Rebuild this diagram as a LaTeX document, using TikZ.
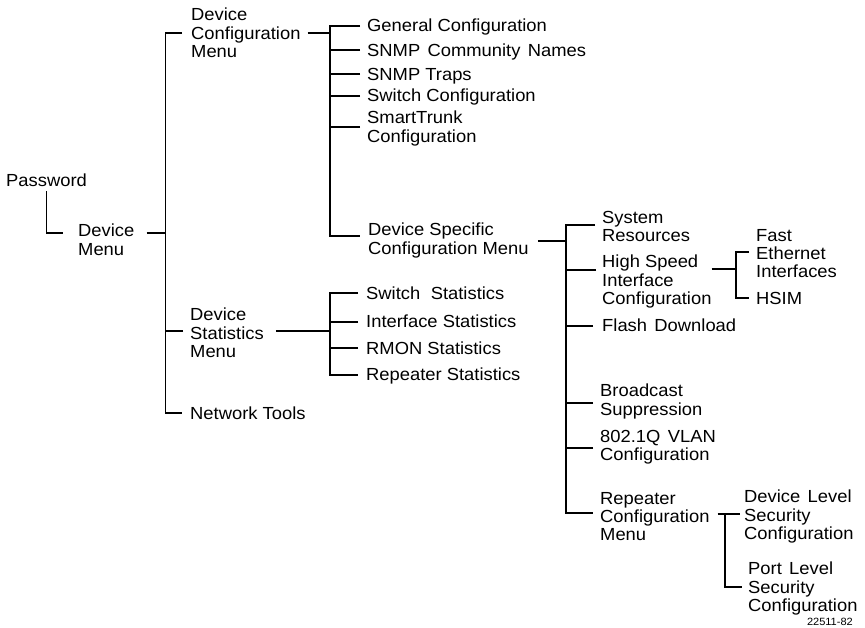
\documentclass[tikz,border=0pt]{standalone}
\usepackage{fontspec}
\setmainfont{Liberation Sans}[FakeStretch=1.05]
\newcommand{\widesp}{\hspace{0.42em}}
\newcommand{\widersp}{\hspace{0.6em}}
\begin{document}
\begin{tikzpicture}[x=1pt,y=-1pt,
  lbl/.style={font=\fontsize{17.5}{18.3}\selectfont, inner sep=0pt, anchor=north west, align=left},
  tree/.style={line width=1.8pt, line join=miter}]
\useasboundingbox (0,0) rectangle (865,627);

% ---- nodes ----
\node[lbl] (pw)   at (6,174)   {Password};
\node[lbl] (dm)   at (78,224)  {Device\\Menu};
\node[lbl] (dcm)  at (191,8)   {Device\\Configuration\\Menu};
\node[lbl] (dsm)  at (190,308) {Device\\Statistics\\Menu};
\node[lbl] (nt)   at (190,407) {Network Tools};

\node[lbl] (gc)   at (367,19)  {General Configuration};
\node[lbl] (scn)  at (367,44)  {SNMP\widesp Community\widesp Names};
\node[lbl] (st)   at (367,68)  {SNMP Traps};
\node[lbl] (sc)   at (367,89)  {Switch Configuration};
\node[lbl] (stc)  at (367,111) {SmartTrunk\\Configuration};
\node[lbl] (dscm) at (368,223) {Device Specific\\Configuration Menu};

\node[lbl] (sr)   at (602,211) {System\\Resources};
\node[lbl] (hs)   at (602,255) {High Speed\\Interface\\Configuration};
\node[lbl] (fe)   at (756,229) {Fast\\Ethernet\\Interfaces};
\node[lbl] (hsim) at (756,292) {HSIM};
\node[lbl] (fd)   at (602,319) {Flash\widesp Download};
\node[lbl] (bs)   at (600,384) {Broadcast\\Suppression};
\node[lbl] (vl)   at (600,430) {802.1Q\widesp VLAN\\Configuration};
\node[lbl] (rcm)  at (600,492) {Repeater\\Configuration\\Menu};
\node[lbl] (dls)  at (744,490) {Device\widesp Level\\Security\\Configuration};
\node[lbl] (pls)  at (748,562) {Port\widesp Level\\Security\\Configuration};

\node[lbl] (ss)   at (366,287) {Switch\widersp Statistics};
\node[lbl] (is)   at (366,315) {Interface Statistics};
\node[lbl] (rs)   at (366,342) {RMON Statistics};
\node[lbl] (rps)  at (366,368) {Repeater Statistics};

\node[font=\fontsize{10.5}{12}\selectfont, inner sep=0pt, anchor=base east] (code) at (853,625) {22511-82};

% ---- connection points ----
\coordinate (dm-in)   at ([shift={(-15,9)}]dm.north west);
\coordinate (dm-out)  at ([shift={(12,9)}]dm.north east);
\coordinate (dcm-in)  at ([shift={(-9,25)}]dcm.north west);
\coordinate (dcm-out) at ([shift={(7,25)}]dcm.north east);
\coordinate (dsm-in)  at ([shift={(-7,23)}]dsm.north west);
\coordinate (dsm-out) at ([shift={(12,23)}]dsm.north east);
\coordinate (nt-in)   at ([shift={(-8,6)}]nt.north west);

\coordinate (gc-in)   at ([shift={(-7,7)}]gc.north west);
\coordinate (scn-in)  at ([shift={(-7,6)}]scn.north west);
\coordinate (st-in)   at ([shift={(-7,6)}]st.north west);
\coordinate (sc-in)   at ([shift={(-7,7)}]sc.north west);
\coordinate (stc-in)  at ([shift={(-7,16)}]stc.north west);
\coordinate (dscm-in) at ([shift={(-8,13)}]dscm.north west);
\coordinate (dscm-out) at ([shift={(9,18)}]dscm.north east);

\coordinate (sr-in)   at ([shift={(-7,14)}]sr.north west);
\coordinate (hs-in)   at ([shift={(-6,15)}]hs.north west);
\coordinate (hs-out)  at ([shift={(0,14)}]hs.north east);
\coordinate (fe-in)   at ([shift={(-7,23)}]fe.north west);
\coordinate (hsim-in) at ([shift={(-7,6)}]hsim.north west);
\coordinate (fd-in)   at ([shift={(-9,7)}]fd.north west);
\coordinate (bs-in)   at ([shift={(-7,19)}]bs.north west);
\coordinate (vl-in)   at ([shift={(-7,18)}]vl.north west);
\coordinate (rcm-in)  at ([shift={(-7,21)}]rcm.north west);
\coordinate (rcm-out) at ([shift={(8,22)}]rcm.north east);
\coordinate (dls-in)  at ([shift={(-4,24)}]dls.north west);
\coordinate (pls-in)  at ([shift={(-6,25)}]pls.north west);

\coordinate (ss-in)   at ([shift={(-8,6)}]ss.north west);
\coordinate (is-in)   at ([shift={(-8,7)}]is.north west);
\coordinate (rs-in)   at ([shift={(-8,6)}]rs.north west);
\coordinate (rps-in)  at ([shift={(-8,7)}]rps.north west);

% trunks
\coordinate (tA) at ([shift={(19,0)}]dm-out);
\coordinate (tB) at ([shift={(22.5,0)}]dcm-out);
\coordinate (tC) at ([shift={(28,0)}]dscm-out);
\coordinate (tD) at ([shift={(24,0)}]hs-out);
\coordinate (tE) at ([shift={(7.5,0)}]rcm-out);
\coordinate (tF) at ([shift={(54,0)}]dsm-out);

% ---- connectors ----
\draw[tree] ([shift={(0,4)}]pw.south) |- (dm-in);

\draw[tree] (dm-out) -- (tA);
\draw[tree] (dcm-in) -| (nt-in -| tA) -- (nt-in);
\draw[tree] (dsm-in) -- (dsm-in -| tA);

\draw[tree] (dcm-out) -- (tB);
\draw[tree] (gc-in) -| (dscm-in -| tB) -- (dscm-in);
\draw[tree] (scn-in) -- (scn-in -| tB);
\draw[tree] (st-in) -- (st-in -| tB);
\draw[tree] (sc-in) -- (sc-in -| tB);
\draw[tree] (stc-in) -- (stc-in -| tB);

\draw[tree] (dscm-out) -- (tC);
\draw[tree] (sr-in) -| (rcm-in -| tC) -- (rcm-in);
\draw[tree] (hs-in) -- (hs-in -| tC);
\draw[tree] (fd-in) -- (fd-in -| tC);
\draw[tree] (bs-in) -- (bs-in -| tC);
\draw[tree] (vl-in) -- (vl-in -| tC);

\draw[tree] (hs-out) -- (tD);
\draw[tree] (fe-in) -| (hsim-in -| tD) -- (hsim-in);

\draw[tree] (rcm-out) -- (dls-in);
\draw[tree] (tE) |- (pls-in);

\draw[tree] (dsm-out) -- (tF);
\draw[tree] (ss-in) -| (rps-in -| tF) -- (rps-in);
\draw[tree] (is-in) -- (is-in -| tF);
\draw[tree] (rs-in) -- (rs-in -| tF);
\end{tikzpicture}
\end{document}
